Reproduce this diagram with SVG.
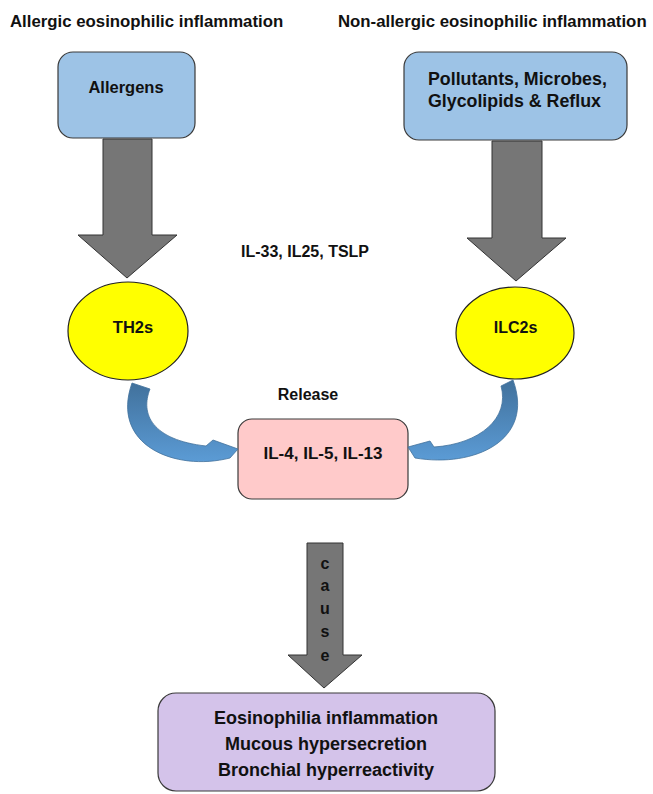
<svg xmlns="http://www.w3.org/2000/svg" width="653" height="794" viewBox="0 0 653 794">
<style>
  text { font-family: "Liberation Sans", Arial, sans-serif; font-weight: bold; fill: #111; }
  .c { text-anchor: middle; }
  .box { stroke: #3a3a3a; stroke-width: 1.2; }
  .blue { fill: #9dc3e6; }
  .pink { fill: #ffcaca; }
  .purple { fill: #d4c3ea; }
  .ell { fill: #ffff00; stroke: #222; stroke-width: 1.2; }
  .gray { fill: #767676; stroke: #333; stroke-width: 1; }
  .curve { fill: url(#bg); stroke: #41719c; stroke-width: 0.8; }
</style>
<defs>
  <linearGradient id="bg" x1="0" y1="0" x2="0" y2="1">
    <stop offset="0" stop-color="#41719c"/>
    <stop offset="1" stop-color="#5b9bd5"/>
  </linearGradient>
</defs>

<g id="titles">
  <text x="10" y="27" font-size="16.8">Allergic eosinophilic inflammation</text>
  <text x="338" y="27" font-size="16.8">Non-allergic eosinophilic inflammation</text>
</g>

<g id="allergens">
  <rect class="box blue" x="58" y="52" width="137" height="86" rx="15"/>
  <text class="c" x="126" y="93" font-size="16.5">Allergens</text>
</g>

<g id="pollutants">
  <rect class="box blue" x="404" y="52" width="223" height="88" rx="15"/>
  <text x="428" y="85" font-size="17.8">Pollutants, Microbes,</text>
  <text x="428" y="107" font-size="17.8">Glycolipids &amp; Reflux</text>
</g>

<g id="th2s">
  <ellipse class="ell" cx="128" cy="331" rx="60" ry="49"/>
  <text class="c" x="133" y="333" font-size="16.5">TH2s</text>
</g>

<g id="ilc2s">
  <ellipse class="ell" cx="515" cy="333" rx="59" ry="46"/>
  <text class="c" x="515.5" y="333" font-size="16">ILC2s</text>
</g>

<g id="cytokine-label">
  <text class="c" x="305" y="257" font-size="16">IL-33, IL25, TSLP</text>
</g>

<g id="release-label">
  <text class="c" x="308" y="400" font-size="16">Release</text>
</g>

<g id="interleukins">
  <rect class="box pink" x="238" y="419" width="170" height="80" rx="14"/>
  <text class="c" x="323" y="459" font-size="17">IL-4, IL-5, IL-13</text>
</g>

<g id="effects">
  <rect class="box purple" x="158" y="693" width="337" height="98" rx="18"/>
  <text class="c" x="326" y="724" font-size="18">Eosinophilia inflammation</text>
  <text class="c" x="326" y="750" font-size="18">Mucous hypersecretion</text>
  <text class="c" x="326" y="776" font-size="18">Bronchial hyperreactivity</text>
</g>

<g id="connectors">
  <path class="gray" d="M103 139 L152 139 L152 235 L177 235 L127 278 L78 235 L103 235 Z"/>
  <path class="gray" d="M492 141 L542 141 L542 238 L566 238 L516 281 L467 238 L492 238 Z"/>
  <path class="curve" d="M132 383 L150 389 C140 414 152 440 206 446 L213 440 L238 449 L230 458 C175 472 110 445 132 383 Z"/>
  <path class="curve" d="M513 380 L501 386 C510 418 480 444 434 447 L430 441 L408 447 L415 458 C475 468 535 440 513 380 Z"/>
  <path class="gray" d="M307 543 L343 543 L343 655 L362 655 L324 688 L288 655 L307 655 Z"/>
  <text class="c" x="325" y="569" font-size="16">c</text>
  <text class="c" x="325" y="591" font-size="16">a</text>
  <text class="c" x="325" y="614" font-size="16">u</text>
  <text class="c" x="325" y="637" font-size="16">s</text>
  <text class="c" x="325" y="661" font-size="16" font-weight="normal">e</text>
</g>
</svg>
